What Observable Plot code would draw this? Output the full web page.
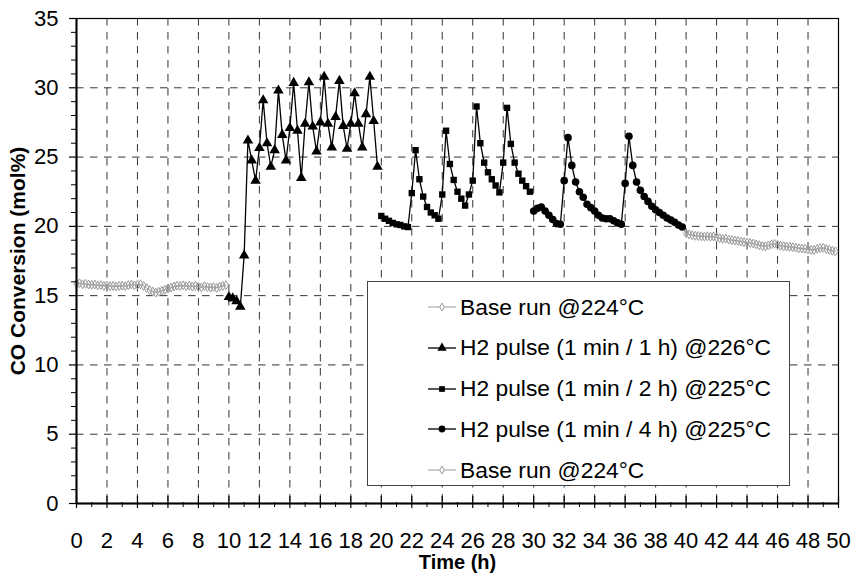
<!DOCTYPE html>
<html>
<head>
<meta charset="utf-8">
<script src="https://cdn.jsdelivr.net/npm/d3@7"></script>
<script src="https://cdn.jsdelivr.net/npm/@observablehq/plot@0.6"></script>
<style>
  body { margin: 0; background: #fff; font-family: "Liberation Sans", Arial, sans-serif; }
  #wrap { position: relative; width: 852px; height: 575px; background: #fff; }
  #legend { position: absolute; left: 367px; top: 281px; width: 423px; height: 205px;
            border: 1px solid #444; background: #fff; box-sizing: border-box; }
  .row { position: absolute; left: 0; height: 40px; display: flex; align-items: center;
         font-size: 22.8px; color: #000; white-space: nowrap; }
  .row svg { margin-left: 60px; margin-right: 4px; }
</style>
</head>
<body>
<div id="wrap"></div>
<script>
// ---------------- data ----------------
const base1Time = [0,0.2,0.4,0.6,0.8,1.0,1.2,1.4,1.6,1.8,2.0,2.2,2.4,2.6,2.8,3.0,3.2,3.4,3.6,3.8,4.0,4.2,4.4,4.6,4.8,5.0,5.2,5.4,5.6,5.8,6.0,6.2,6.4,6.6,6.8,7.0,7.2,7.4,7.6,7.8,8.0,8.2,8.4,8.6,8.8,9.0,9.2,9.4,9.6,9.8];
const base1Conv = [15.85,15.9,15.82,15.85,15.8,15.78,15.8,15.74,15.76,15.7,15.72,15.68,15.7,15.66,15.7,15.72,15.68,15.76,15.8,15.74,15.78,15.82,15.7,15.55,15.4,15.3,15.22,15.28,15.35,15.42,15.5,15.58,15.66,15.72,15.7,15.74,15.68,15.72,15.65,15.7,15.66,15.6,15.68,15.62,15.58,15.62,15.56,15.64,15.7,15.76];

const pulse1hTime = [10.0,10.25,10.5,10.75,11.0,11.25,11.5,11.75,12.0,12.25,12.5,12.75,13.0,13.25,13.5,13.75,14.0,14.25,14.5,14.75,15.0,15.25,15.5,15.75,16.0,16.25,16.5,16.75,17.0,17.25,17.5,17.75,18.0,18.25,18.5,18.75,19.0,19.25,19.5,19.75];
const pulse1hConv = [14.9,14.8,14.6,14.2,17.9,26.2,24.75,23.3,25.65,29.1,26.0,24.3,25.5,29.8,26.6,24.75,27.1,30.35,26.9,23.5,27.4,30.4,27.2,25.4,27.5,30.8,27.4,25.7,27.9,30.5,27.25,25.6,27.4,29.6,27.4,25.7,28.1,30.8,27.6,24.3];

const pulse2hTime = [20.0,20.25,20.5,20.75,21.0,21.25,21.5,21.75,22.0,22.25,22.5,22.75,23.0,23.25,23.5,23.75,24.0,24.25,24.5,24.75,25.0,25.25,25.5,25.75,26.0,26.25,26.5,26.75,27.0,27.25,27.5,27.75,28.0,28.25,28.5,28.75,29.0,29.25,29.5,29.75];
const pulse2hConv = [20.75,20.55,20.4,20.25,20.15,20.1,20.0,19.95,22.4,25.5,23.4,22.15,21.4,21.0,20.8,20.55,22.3,26.9,24.5,23.35,22.5,22.0,21.5,22.3,23.3,28.65,26.0,24.6,23.9,23.4,22.95,22.45,24.6,28.55,25.95,24.6,23.8,23.3,22.9,22.5];

const pulse4hTime = [30.0,30.25,30.5,30.75,31.0,31.25,31.5,31.75,32.0,32.25,32.5,32.75,33.0,33.25,33.5,33.75,34.0,34.25,34.5,34.75,35.0,35.25,35.5,35.75,36.0,36.25,36.5,36.75,37.0,37.25,37.5,37.75,38.0,38.25,38.5,38.75,39.0,39.25,39.5,39.75];
const pulse4hConv = [21.1,21.3,21.4,21.1,20.8,20.5,20.2,20.15,23.3,26.4,24.4,23.2,22.5,22.1,21.6,21.35,21.1,20.8,20.6,20.55,20.55,20.4,20.25,20.15,23.1,26.5,24.4,23.2,22.6,22.15,21.8,21.45,21.2,21.0,20.8,20.6,20.45,20.3,20.1,19.95];

const base2Time = [40.0,40.2,40.4,40.6,40.8,41.0,41.2,41.4,41.6,41.8,42.0,42.2,42.4,42.6,42.8,43.0,43.2,43.4,43.6,43.8,44.0,44.2,44.4,44.6,44.8,45.0,45.2,45.4,45.6,45.8,46.0,46.2,46.4,46.6,46.8,47.0,47.2,47.4,47.6,47.8,48.0,48.2,48.4,48.6,48.8,49.0,49.2,49.4,49.6,49.8];
const base2Conv = [19.5,19.42,19.36,19.32,19.3,19.28,19.26,19.28,19.25,19.27,19.2,19.15,19.1,19.12,19.05,19.0,18.98,18.95,18.9,18.86,18.84,18.8,18.76,18.7,18.64,18.58,18.55,18.62,18.7,18.74,18.68,18.6,18.56,18.55,18.52,18.5,18.46,18.42,18.4,18.38,18.34,18.3,18.3,18.38,18.44,18.45,18.36,18.3,18.24,18.2];

const seriesLabels = ["Base run @224°C", "H2 pulse (1 min / 1 h) @226°C", "H2 pulse (1 min / 2 h) @225°C", "H2 pulse (1 min / 4 h) @225°C", "Base run @224°C"];
const xTicks = [0,2,4,6,8,10,12,14,16,18,20,22,24,26,28,30,32,34,36,38,40,42,44,46,48,50];
const xMinorTicks = [1,3,5,7,9,11,13,15,17,19,21,23,25,27,29,31,33,35,37,39,41,43,45,47,49];
const yTicks = [0,5,10,15,20,25,30,35];
const yMinorTicks = [1,2,3,4,6,7,8,9,11,12,13,14,16,17,18,19,21,22,23,24,26,27,28,29,31,32,33,34];
const xTitle = "Time (h)";
const yTitle = "CO Conversion (mol%)";

// ---------------- build ----------------
const zip = (ts, vs) => ts.map((t, i) => ({t, v: vs[i]}));
const base1 = zip(base1Time, base1Conv);
const p1 = zip(pulse1hTime, pulse1hConv);
const p2 = zip(pulse2hTime, pulse2hConv);
const p4 = zip(pulse4hTime, pulse4hConv);
const base2 = zip(base2Time, base2Conv);

const styles = [
  {symbol: "diamond", stroke: "#9a9a9a", fill: "none", r: 2.7, line: "#9a9a9a"},
  {symbol: "triangle", stroke: "none", fill: "black", r: 3.9, line: "black"},
  {symbol: "square", stroke: "none", fill: "black", r: 3.6, line: "black"},
  {symbol: "circle", stroke: "none", fill: "black", r: 3.8, line: "black"},
  {symbol: "diamond", stroke: "#9a9a9a", fill: "none", r: 2.7, line: "#9a9a9a"}
];
const allSeries = [base1, p1, p2, p4, base2];

const gridStyle = {stroke: "#333", strokeWidth: 1, strokeDasharray: "7.5,6.5"};
const marks = [
  Plot.ruleX(xTicks.filter(d => d > 0 && d < 50), gridStyle),
  Plot.ruleY(yTicks.filter(d => d > 0 && d < 35), gridStyle),
  Plot.frame({stroke: "black", strokeWidth: 1.2}),
];
allSeries.forEach((data, i) => {
  const s = styles[i];
  marks.push(Plot.line(data, {x: "t", y: "v", stroke: s.line, strokeWidth: s.line === "black" ? 1.3 : 1}));
  marks.push(Plot.dot(data, {x: "t", y: "v", symbol: s.symbol, r: s.r, fill: s.fill, stroke: s.stroke, strokeWidth: 1}));
});
marks.push(
  Plot.ruleX([0], {stroke: "black", strokeWidth: 2}),
  Plot.ruleY([0], {stroke: "black", strokeWidth: 2}),
  // x axis: labels only
  Plot.axisX({ticks: xTicks, tickSize: 0, tickPadding: 29, tickFormat: d => String(d), fontSize: 22, label: null}),
  // x axis: major ticks crossing the axis (no text)
  Plot.axisX({ticks: xTicks, tickSize: 12, dy: -7, fill: "none", label: null, strokeWidth: 1.2}),
  // x axis: minor ticks (no text)
  Plot.axisX({ticks: xMinorTicks, tickSize: 5, dy: -1, fill: "none", label: null, strokeWidth: 1}),
  // y axis: labels only
  Plot.axisY({ticks: yTicks, tickSize: 0, tickPadding: 18, tickFormat: d => String(d), fontSize: 22, label: null}),
  Plot.axisY({ticks: yTicks, tickSize: 7, fill: "none", label: null, strokeWidth: 1.2}),
  Plot.axisY({ticks: yMinorTicks, tickSize: 5, fill: "none", label: null, strokeWidth: 1}),
  // axis titles
  Plot.text([yTitle], {frameAnchor: "left", dx: -58, rotate: -90, fontWeight: "bold", fontSize: 21, textAnchor: "middle", lineAnchor: "middle", fill: "black", style: "letter-spacing:2px"}),
  Plot.text([xTitle], {frameAnchor: "bottom", dy: 59, fontWeight: "bold", fontSize: 20, textAnchor: "middle", lineAnchor: "middle", fill: "black"})
);

const chart = Plot.plot({
  width: 852,
  height: 575,
  marginLeft: 76,
  marginRight: 14,
  marginTop: 18,
  marginBottom: 72,
  style: {background: "#fff", fontFamily: "'Liberation Sans', Arial, sans-serif", fontSize: "22px", color: "black", overflow: "visible"},
  x: {domain: [0, 50], label: null},
  y: {domain: [0, 35], label: null},
  marks
});

const wrap = document.getElementById("wrap");
wrap.appendChild(chart);

// ---------------- legend (HTML overlay) ----------------
const legend = document.createElement("div");
legend.id = "legend";
wrap.appendChild(legend);
const symMap = {diamond: d3.symbolDiamond, triangle: d3.symbolTriangle, square: d3.symbolSquare, circle: d3.symbolCircle};
seriesLabels.forEach((label, i) => {
  const s = styles[i];
  const row = document.createElement("div");
  row.className = "row";
  row.style.top = (25 + i * 40.8 - 20) + "px";
  const svg = d3.create("svg").attr("width", 28).attr("height", 14);
  svg.append("line").attr("x1", 0).attr("x2", 28).attr("y1", 7).attr("y2", 7)
     .attr("stroke", s.line).attr("stroke-width", s.line === "black" ? 1.3 : 1);
  svg.append("path").attr("transform", "translate(14,7)")
     .attr("d", d3.symbol(symMap[s.symbol], Math.PI * s.r * s.r * 0.8)())
     .attr("fill", s.fill === "none" ? "white" : s.fill)
     .attr("stroke", s.stroke);
  row.appendChild(svg.node());
  const span = document.createElement("span");
  span.textContent = label;
  row.appendChild(span);
  legend.appendChild(row);
});
</script>
</body>
</html>
